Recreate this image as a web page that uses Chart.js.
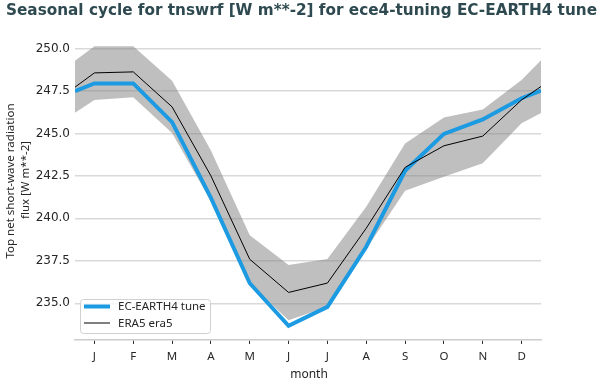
<!DOCTYPE html>
<html>
<head>
<meta charset="utf-8">
<script src="https://cdn.jsdelivr.net/npm/chart.js@4/dist/chart.umd.min.js"></script>
<style>
  html, body { margin: 0; padding: 0; background: #ffffff; }
  #wrap { width: 600px; height: 380px; position: relative; }
</style>
</head>
<body>
<div id="wrap"><canvas id="c" width="600" height="380"></canvas></div>
<script>
// ---- data ----
const monthLabels = ['J','F','M','A','M','J','J','A','S','O','N','D'];
const monthTicks = [1,2,3,4,5,6,7,8,9,10,11,12];
// x positions: half-month wrap points at each edge, then the 12 months
const xPos = [0.5,1,2,3,4,5,6,7,8,9,10,11,12,12.5];
const ecEarth4Tune = [247.48,247.94,247.94,245.66,241.2,236.18,233.68,234.79,238.33,242.8,244.97,245.82,247.07,247.52];
const era5 = [247.72,248.56,248.62,246.56,242.5,237.59,235.64,236.19,239.42,243.0,244.27,244.84,246.97,247.76];
const era5Upper = [249.28,250.13,250.13,248.1,244.0,239.0,237.25,237.6,240.68,244.41,245.94,246.41,248.14,249.3];
const era5Lower = [246.21,246.96,247.12,245.02,241.0,236.17,234.0,234.8,238.2,241.62,242.45,243.24,245.59,246.2];
const yTicks = [235.0,237.5,240.0,242.5,245.0,247.5,250.0];
const titleText = 'Seasonal cycle for tnswrf [W m**-2] for ece4-tuning EC-EARTH4 tune';
const yTitle = ['Top net short-wave radiation', 'flux [W m**-2]'];
const xTitle = 'month';
const legendNames = ['EC-EARTH4 tune', 'ERA5 era5'];

const FONT = '"Noto Sans", "Open Sans", sans-serif';
const NUMFONT = '"DejaVu Sans", "Noto Sans", sans-serif';
const BLUE = '#1d9be2';
const TXT = '#262626';

function pts(ys) { return xPos.map((x, i) => ({ x: x, y: ys[i] })); }

const extras = {
  id: 'extras',
  afterDraw(chart) {
    const ctx = chart.ctx;
    ctx.save();
    // title
    ctx.fillStyle = '#2e4a50';
    ctx.font = 'bold 16px "DejaVu Sans", sans-serif';
    ctx.textAlign = 'center';
    ctx.textBaseline = 'alphabetic';
    ctx.fillText(titleText, 301.5, 14.8, 591);

    // y-axis title (two lines, rotated)
    ctx.fillStyle = TXT;
    ctx.font = '11.5px ' + FONT;
    ctx.textAlign = 'center';
    ctx.textBaseline = 'middle';
    ctx.save();
    ctx.translate(10.5, 181);
    ctx.rotate(-Math.PI / 2);
    ctx.fillText(yTitle[0], 0, 0);
    ctx.restore();
    ctx.save();
    ctx.translate(25.5, 180);
    ctx.rotate(-Math.PI / 2);
    ctx.fillText(yTitle[1], 0, 0);
    ctx.restore();
    // x-axis title
    ctx.font = '12px ' + FONT;
    ctx.textBaseline = 'alphabetic';
    ctx.fillText(xTitle, 309, 378.3);

    // legend box
    const bx = 80.5, by = 299.5, bw = 130, bh = 34, r = 3;
    ctx.beginPath();
    ctx.moveTo(bx + r, by);
    ctx.lineTo(bx + bw - r, by);
    ctx.quadraticCurveTo(bx + bw, by, bx + bw, by + r);
    ctx.lineTo(bx + bw, by + bh - r);
    ctx.quadraticCurveTo(bx + bw, by + bh, bx + bw - r, by + bh);
    ctx.lineTo(bx + r, by + bh);
    ctx.quadraticCurveTo(bx, by + bh, bx, by + bh - r);
    ctx.lineTo(bx, by + r);
    ctx.quadraticCurveTo(bx, by, bx + r, by);
    ctx.closePath();
    ctx.fillStyle = 'rgba(255,255,255,0.8)';
    ctx.fill();
    ctx.strokeStyle = '#d0d0d0';
    ctx.lineWidth = 1;
    ctx.stroke();
    // legend samples
    ctx.lineCap = 'butt';
    ctx.strokeStyle = BLUE;
    ctx.lineWidth = 4;
    ctx.beginPath(); ctx.moveTo(84, 306.5); ctx.lineTo(110, 306.5); ctx.stroke();
    ctx.strokeStyle = '#000000';
    ctx.lineWidth = 1;
    ctx.beginPath(); ctx.moveTo(84, 323); ctx.lineTo(110, 323); ctx.stroke();
    ctx.fillStyle = TXT;
    ctx.font = '11.5px ' + FONT;
    ctx.textAlign = 'left';
    ctx.textBaseline = 'middle';
    ctx.fillText(legendNames[0], 118, 307);
    ctx.fillText(legendNames[1], 118, 324);
    ctx.restore();
  }
};

new Chart(document.getElementById('c'), {
  type: 'line',
  data: {
    datasets: [
      { label: legendNames[1], data: pts(era5), borderColor: '#000000', borderWidth: 1, pointRadius: 0, fill: false, tension: 0 },
      { label: legendNames[0], data: pts(ecEarth4Tune), borderColor: BLUE, borderWidth: 4, pointRadius: 0, fill: false, tension: 0, borderJoinStyle: 'miter' },
      { label: 'upper', data: pts(era5Upper), borderWidth: 0, borderColor: 'rgba(0,0,0,0)', pointRadius: 0, fill: '+1', backgroundColor: 'rgba(128,128,128,0.5)', tension: 0 },
      { label: 'lower', data: pts(era5Lower), borderWidth: 0, borderColor: 'rgba(0,0,0,0)', pointRadius: 0, fill: false, tension: 0 }
    ]
  },
  options: {
    responsive: false,
    animation: false,
    layout: { padding: { left: 0, right: 59, top: 32.8, bottom: 0 } },
    plugins: {
      legend: { display: false },
      tooltip: { enabled: false },
      title: { display: false }
    },
    scales: {
      x: {
        type: 'linear',
        min: 0.5,
        max: 12.5,
        afterBuildTicks(s) { s.ticks = monthTicks.map(v => ({ value: v })); },
        afterFit(s) { s.height = 40; },
        ticks: {
          autoSkip: false,
          maxRotation: 0,
          padding: 6,
          color: TXT,
          font: { family: FONT, size: 11.5 },
          callback: (v) => monthLabels[monthTicks.indexOf(v)]
        },
        grid: { drawOnChartArea: false, drawTicks: true, tickLength: 4, color: '#333333', lineWidth: 1 },
        border: { display: true, color: '#cccccc', width: 1.5 }
      },
      y: {
        type: 'linear',
        min: 232.84,
        max: 250.92,
        afterBuildTicks(s) { s.ticks = yTicks.map(v => ({ value: v })); },
        afterFit(s) { s.width = 75; },
        ticks: {
          padding: 5,
          color: TXT,
          font: { family: NUMFONT, size: 12 },
          callback: (v) => v.toFixed(1)
        },
        grid: { color: '#d9d9d9', lineWidth: 1.5, drawTicks: false },
        border: { display: false }
      }
    }
  },
  plugins: [extras]
});
</script>
</body>
</html>
